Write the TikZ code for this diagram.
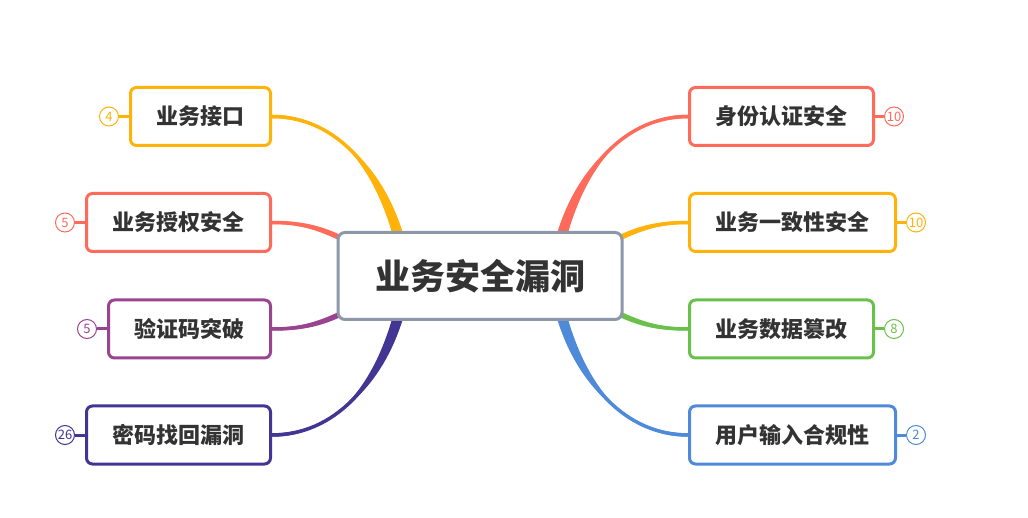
\documentclass[tikz,border=0pt]{standalone}
\usepackage{fontspec}
\setmainfont{Noto Sans CJK SC}
\usetikzlibrary{calc,backgrounds}
\definecolor{cOrange}{HTML}{FFB20A}
\definecolor{cCoral}{HTML}{FF6B5B}
\definecolor{cPurple}{HTML}{9A4390}
\definecolor{cIndigo}{HTML}{433593}
\definecolor{cGreen}{HTML}{6BC04B}
\definecolor{cBlue}{HTML}{4E89DA}
\definecolor{cRoot}{HTML}{8C97A8}
\definecolor{cText}{HTML}{333333}
% tapered branch: colour, start, end, ctrl offsets, half widths
\newcommand{\branch}[7]{%
 \fill[#1] ($(#2)+(#6)$) .. controls ($(#2)+(#4)+(#6)$) and ($(#3)+(#5)+(#7)$) .. ($(#3)+(#7)$)
 -- ($(#3)-(#7)$) .. controls ($(#3)+(#5)-(#7)$) and ($(#2)+(#4)-(#6)$) .. ($(#2)-(#6)$) -- cycle;
 \draw[#1,line width=3.5pt] (#2) .. controls ($(#2)+(#4)$) and ($(#3)+(#5)$) .. (#3);}
\tikzset{
 topic/.style={draw,fill=white,line width=3pt,rounded corners=6pt,inner xsep=26pt,
  minimum height=58pt,text=cText,font=\fontsize{22}{26}\selectfont\bfseries},
 badge/.style={circle,draw,fill=white,line width=1pt,inner sep=0pt,minimum size=19pt,
  font=\fontsize{13}{13}\selectfont}
}
\begin{document}
\begin{tikzpicture}[x=1pt,y=-1pt]
\useasboundingbox (0,0) rectangle (1028,518);
\node[draw=cRoot,fill=white,line width=3pt,rounded corners=7pt,minimum width=284pt,minimum height=87pt,
 text=cText,font=\fontsize{35}{40}\selectfont\bfseries] (root) at (480,276) {业务安全漏洞};
\foreach \n/\y/\txt/\col/\num in {a/116.5/业务接口/cOrange/4,b/222.5/业务授权安全/cCoral/5,
 c/329/验证码突破/cPurple/5,d/435/密码找回漏洞/cIndigo/26}{
 \node[topic,draw=\col,anchor=east] (\n) at (272,\y) {\txt};
 \node[badge,draw=\col,text=\col] (\n b) at ($(\n.west)+(-20,0)$) {\num};
 \draw[\col,line width=3pt] (\n b) -- (\n);
}
\foreach \n/\y/\txt/\col/\num in {e/116.5/身份认证安全/cCoral/10,f/222.5/业务一致性安全/cOrange/10,
 g/329/业务数据篡改/cGreen/8,h/435/用户输入合规性/cBlue/2}{
 \node[topic,draw=\col,anchor=west] (\n) at (688,\y) {\txt};
 \node[badge,draw=\col,text=\col] (\n b) at ($(\n.east)+(19,0)$) {\num};
 \draw[\col,line width=3pt] (\n b) -- (\n);
}
\coordinate (sa) at ($(root.center)+(-78,-26)$);
\coordinate (sb) at ($(root.center)+(-135,-36)$);
\coordinate (sc) at ($(root.center)+(-135,36)$);
\coordinate (sd) at ($(root.center)+(-78,26)$);
\coordinate (se) at ($(root.center)+(78,-26)$);
\coordinate (sf) at ($(root.center)+(135,-36)$);
\coordinate (sg) at ($(root.center)+(135,36)$);
\coordinate (sh) at ($(root.center)+(78,26)$);
\begin{scope}[on background layer]
\branch{cOrange}{sa}{a.east}{-20,-85}{60,0}{-5.5,0}{0,-1.75}
\branch{cCoral}{sb}{b.east}{-25,-12}{30,0}{0,-3}{0,-1.5}
\branch{cPurple}{sc}{c.east}{-25,12}{30,0}{0,3}{0,1.5}
\branch{cIndigo}{sd}{d.east}{-20,85}{60,0}{-5.5,0}{0,1.75}
\branch{cCoral}{se}{e.west}{20,-85}{-60,0}{5.5,0}{0,-1.75}
\branch{cOrange}{sf}{f.west}{25,-12}{-30,0}{0,-3}{0,-1.5}
\branch{cGreen}{sg}{g.west}{25,12}{-30,0}{0,3}{0,1.5}
\branch{cBlue}{sh}{h.west}{20,85}{-60,0}{5.5,0}{0,1.75}
\end{scope}
\end{tikzpicture}
\end{document}
